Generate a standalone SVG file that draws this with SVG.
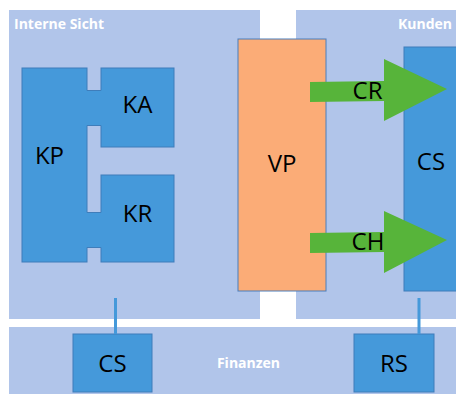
<svg xmlns="http://www.w3.org/2000/svg" width="456" height="394" viewBox="0 0 456 394">
<style>
.panel{fill:#B1C5EA}
.node{fill:#4599DA;stroke:#3F7DBA;stroke-width:1}
.vp{fill:#FBAC77;stroke:#4A7EBB;stroke-width:1}
.lbl{font-family:"Open Sans","Liberation Sans",sans-serif;font-size:24px;fill:#000;text-anchor:middle}
.title{font-family:"Open Sans","Liberation Sans",sans-serif;font-size:14px;font-weight:bold;fill:#FFFFFF}
.arrow{fill:#57B43A}
.conn{stroke:#4599DA;stroke-width:3;fill:none}
</style>
<rect width="456" height="394" fill="#FFFFFF"/>
<g id="panel-intern">
<rect class="panel" x="9" y="10" width="251" height="309"/>
<text class="title" x="14" y="29">Interne Sicht</text>
</g>
<g id="panel-kunden">
<rect class="panel" x="296" y="10" width="160" height="309"/>
<text class="title" x="452" y="29" text-anchor="end">Kunden</text>
</g>
<g id="panel-finanzen">
<rect class="panel" x="9" y="327" width="447" height="67"/>
<text class="title" x="248.5" y="368" text-anchor="middle">Finanzen</text>
</g>
<g id="KA">
<rect class="node" x="101" y="68" width="73" height="79"/>
<text class="lbl" x="137.5" y="113">KA</text>
</g>
<g id="KR">
<rect class="node" x="101" y="175" width="73" height="87"/>
<text class="lbl" x="137.5" y="222">KR</text>
</g>
<g id="KP">
<rect class="node" x="22" y="68" width="65" height="194"/>
<rect x="86" y="90.5" width="16" height="35" fill="#4599DA"/>
<rect x="86" y="212.5" width="16" height="35" fill="#4599DA"/>
<path d="M87 90.5H101M87 125.5H101M87 212.5H101M87 247.5H101" stroke="#3F7DBA" stroke-width="1" fill="none"/>
<text class="lbl" x="49.5" y="164">KP</text>
</g>
<g id="VP">
<rect class="vp" x="238" y="39" width="88" height="252"/>
<text class="lbl" x="282" y="172">VP</text>
</g>
<g id="CS-kunden">
<rect class="node" x="404" y="47" width="53" height="244"/>
<text class="lbl" x="431" y="170">CS</text>
</g>
<g id="CS-finanzen">
<rect class="node" x="73" y="334" width="79" height="58"/>
<text class="lbl" x="112.5" y="372">CS</text>
</g>
<g id="RS">
<rect class="node" x="354" y="334" width="80" height="58"/>
<text class="lbl" x="394" y="372">RS</text>
</g>
<g id="connectors">
<polygon class="arrow" points="310,82 384,81 384,59 447,89 384,121 384,101 310,102"/>
<polygon class="arrow" points="310,233 384,232 384,211 447,240 384,273 384,252 310,253"/>
<line class="conn" x1="115.5" y1="298" x2="115.5" y2="334"/>
<line class="conn" x1="419" y1="298" x2="419" y2="334"/>
</g>
<text class="lbl" x="367.5" y="99">CR</text>
<text class="lbl" x="368" y="250">CH</text>
</svg>
